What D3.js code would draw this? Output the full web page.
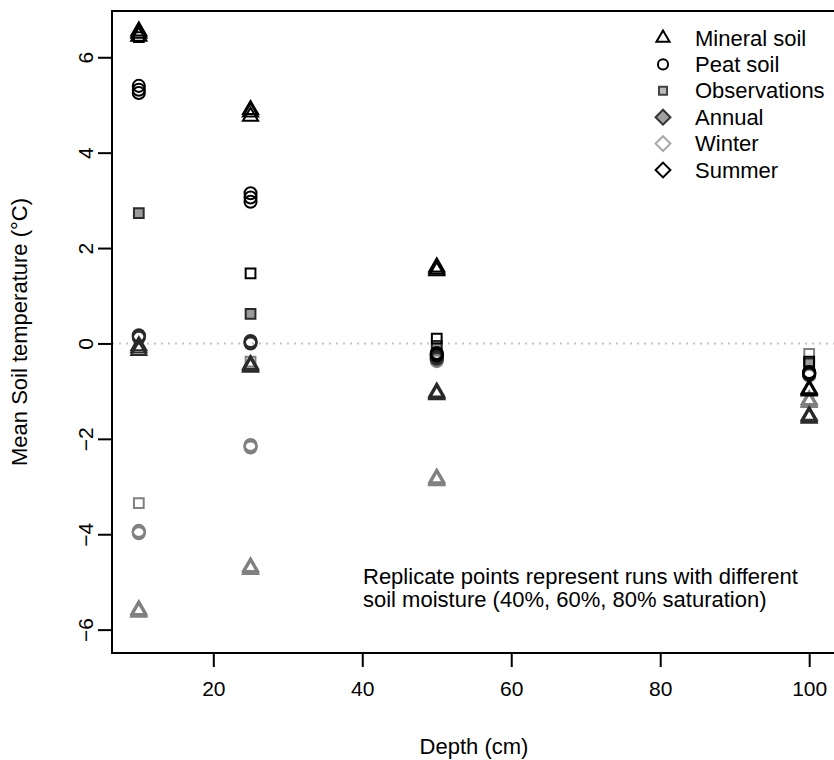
<!DOCTYPE html>
<html>
<head>
<meta charset="utf-8">
<script src="https://cdn.jsdelivr.net/npm/d3@7/dist/d3.min.js"></script>
<style>
  html, body { margin: 0; padding: 0; background: #fff; }
  svg { display: block; font-family: "Liberation Sans", Arial, sans-serif; }
</style>
</head>
<body>
<svg id="chart" width="834" height="760"></svg>
<script>
// ---------------- data ----------------
const depths = [10, 25, 50, 100];
const xTicks = [20, 40, 60, 80, 100];
const yTicks = [-6, -4, -2, 0, 2, 4, 6];

// replicate runs (40%, 60%, 80% saturation) per depth
const mineralSummer = [[6.55, 6.5, 6.44], [4.9, 4.85, 4.76], [1.6, 1.56, 1.52], [-0.95, -0.97, -1.0]];
const mineralAnnual = [[-0.05, -0.1, -0.15], [-0.44, -0.47, -0.5], [-1.02, -1.05, -1.08], [-1.51, -1.54, -1.57]];
const mineralWinter = [[-5.58, -5.61, -5.64], [-4.68, -4.71, -4.74], [-2.82, -2.85, -2.88], [-1.18, -1.21, -1.24]];
const peatSummer = [[5.4, 5.32, 5.25], [3.15, 3.06, 2.97], [-0.2, -0.22, -0.25], [-0.6, -0.62, -0.64]];
const peatAnnual = [[0.17, 0.15, 0.12], [0.05, 0.03, 0.0], [-0.27, -0.3, -0.32], [-0.61, -0.63, -0.65]];
const peatWinter = [[-3.93, -3.95, -3.98], [-2.13, -2.16, -2.18], [-0.32, -0.35, -0.37], [-0.64, -0.66, -0.68]];
const obsSummer = [6.42, 1.47, 0.1, -0.38];
const obsAnnual = [2.73, 0.62, -0.05, -0.42];
const obsWinter = [-3.35, -0.38, -0.15, -0.22];

const legendLabels = ["Mineral soil", "Peat soil", "Observations", "Annual", "Winter", "Summer"];
const noteLines = ["Replicate points represent runs with different", "soil moisture (40%, 60%, 80% saturation)"];

// ---------------- styles ----------------
const seasonStyle = {
  Summer: { stroke: "#000", fill: "none" },
  Annual: { stroke: "#2a2a2a", fill: "none" },
  Winter: { stroke: "#808080", fill: "none" }
};
const obsAnnualFill = "#9a9a9a";
const diamondType = {
  draw(ctx, size) {
    const r = Math.sqrt(size / 2);
    ctx.moveTo(0, -r); ctx.lineTo(r, 0); ctx.lineTo(0, r); ctx.lineTo(-r, 0); ctx.closePath();
  }
};
const shapeOf = { Mineral: d3.symbolTriangle, Peat: d3.symbolCircle, Obs: d3.symbolSquare, Diamond: diamondType };
const sizeOf = { Mineral: 100, Peat: 115, Obs: 95, Diamond: 80 };

// ---------------- layout ----------------
const svg = d3.select("#chart");
const plot = { left: 112, right: 836, top: 11, bottom: 653 };

const x = d3.scaleLinear().domain([6.4, 103.6]).range([plot.left, plot.right]);
const y = d3.scaleLinear().domain([-6.49, 6.97]).range([plot.bottom, plot.top]);

// zero reference line
svg.append("line")
  .attr("x1", plot.left).attr("x2", plot.right)
  .attr("y1", y(0)).attr("y2", y(0))
  .attr("stroke", "#c4c4c4").attr("stroke-width", 2)
  .attr("stroke-dasharray", "2,5");

// points
function addPoints(groupName, shape, season, values, fillOverride) {
  const pts = [];
  values.forEach((v, i) => {
    const arr = Array.isArray(v) ? v : [v];
    arr.forEach(val => pts.push({ d: depths[i], v: val }));
  });
  const st = seasonStyle[season];
  svg.append("g").attr("class", groupName)
    .selectAll("path").data(pts).join("path")
    .attr("transform", p => `translate(${x(p.d)},${y(p.v)})`)
    .attr("d", d3.symbol().type(shapeOf[shape]).size(sizeOf[shape]))
    .attr("fill", fillOverride || st.fill)
    .attr("stroke", st.stroke)
    .attr("stroke-width", 2);
}
addPoints("mineral-winter", "Mineral", "Winter", mineralWinter);
addPoints("peat-winter", "Peat", "Winter", peatWinter);
addPoints("obs-winter", "Obs", "Winter", obsWinter);
addPoints("mineral-annual", "Mineral", "Annual", mineralAnnual);
addPoints("peat-annual", "Peat", "Annual", peatAnnual);
addPoints("obs-annual", "Obs", "Annual", obsAnnual, obsAnnualFill);
addPoints("mineral-summer", "Mineral", "Summer", mineralSummer);
addPoints("peat-summer", "Peat", "Summer", peatSummer);
addPoints("obs-summer", "Obs", "Summer", obsSummer);

// axes
const xAxis = d3.axisBottom(x).tickValues(xTicks).tickSize(14).tickPadding(14);
const gx = svg.append("g").attr("transform", `translate(0,${plot.bottom})`).call(xAxis);
gx.select(".domain").remove();
gx.selectAll(".tick line").attr("stroke", "#000").attr("stroke-width", 2);
gx.selectAll(".tick text").attr("font-size", 21).attr("fill", "#000")
  .attr("font-family", "Liberation Sans, Arial, sans-serif");

const yAxis = d3.axisLeft(y).tickValues(yTicks).tickSize(14).tickPadding(0).tickFormat(d3.format("d"));
const gy = svg.append("g").attr("transform", `translate(${plot.left},0)`).call(yAxis);
gy.select(".domain").remove();
gy.selectAll(".tick line").attr("stroke", "#000").attr("stroke-width", 2);
gy.selectAll(".tick text")
  .attr("font-size", 21).attr("fill", "#000")
  .attr("font-family", "Liberation Sans, Arial, sans-serif")
  .attr("text-anchor", "middle").attr("dy", null).attr("x", null)
  .attr("transform", "translate(-27,0) rotate(-90)")
  .attr("dominant-baseline", "central");

// box
svg.append("rect")
  .attr("x", plot.left).attr("y", plot.top)
  .attr("width", plot.right - plot.left).attr("height", plot.bottom - plot.top)
  .attr("fill", "none").attr("stroke", "#000").attr("stroke-width", 2);

// axis titles
svg.append("text")
  .attr("x", (plot.left + plot.right) / 2).attr("y", 754)
  .attr("text-anchor", "middle").attr("font-size", 22).text("Depth (cm)");
svg.append("text")
  .attr("transform", `translate(27,${(plot.top + plot.bottom) / 2}) rotate(-90)`)
  .attr("text-anchor", "middle").attr("font-size", 22).text("Mean Soil temperature (°C)");

// legend
const legendItems = [
  { shape: "Mineral", st: { stroke: "#000", fill: "none" }, sz: 75 },
  { shape: "Peat", st: { stroke: "#000", fill: "none" }, sz: 80 },
  { shape: "Obs", st: { stroke: "#444", fill: "#bbb" }, sz: 65 },
  { shape: "Diamond", st: { stroke: "#333", fill: "#a0a0a0" }, sz: 110 },
  { shape: "Diamond", st: { stroke: "#a8a8a8", fill: "none" }, sz: 110 },
  { shape: "Diamond", st: { stroke: "#000", fill: "none" }, sz: 110 }
];
const lg = svg.append("g");
legendLabels.forEach((lab, i) => {
  const cy = 38 + i * 26.4;
  const it = legendItems[i];
  lg.append("path")
    .attr("transform", `translate(663,${cy})`)
    .attr("d", d3.symbol().type(shapeOf[it.shape]).size(it.sz))
    .attr("fill", it.st.fill).attr("stroke", it.st.stroke).attr("stroke-width", 2);
  lg.append("text").attr("x", 695).attr("y", cy)
    .attr("dominant-baseline", "central").attr("font-size", 22).text(lab);
});

// note
noteLines.forEach((t, i) => {
  svg.append("text").attr("x", 363).attr("y", 584 + i * 23)
    .attr("font-size", 22).text(t);
});
</script>
</body>
</html>
